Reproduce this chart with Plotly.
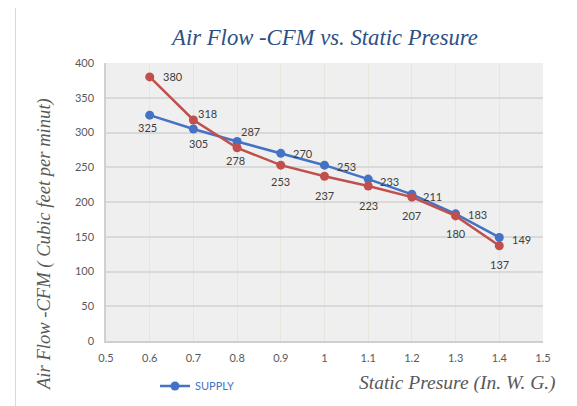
import plotly.graph_objects as go

pressure = [0.6, 0.7, 0.8, 0.9, 1.0, 1.1, 1.2, 1.3, 1.4]
supply = [325, 305, 287, 270, 253, 233, 211, 183, 149]
second = [380, 318, 278, 253, 237, 223, 207, 180, 137]
x_ticks = [0.5, 0.6, 0.7, 0.8, 0.9, 1, 1.1, 1.2, 1.3, 1.4, 1.5]
y_ticks = [0, 50, 100, 150, 200, 250, 300, 350, 400]

# label offsets in pixels (dx right, dy down) - style only
supply_label_offsets = [(-2, 12), (5, 14), (13, -10), (22, 0), (22, 1), (21, 2), (21, 2), (22, 1), (22, 2)]
second_label_offsets = [(23, 0), (14, -6), (-2, 13), (0, 16), (0, 19), (0, 19), (0, 18), (0, 18), (0, 19)]

BLUE = "#4472c4"
RED = "#c0504d"
LABEL = "#404040"
TICK = "#595959"
SERIF = "Liberation Serif, Times New Roman, DejaVu Serif, serif"
SANS = "Lato, Open Sans, sans-serif"

# geometry (figure is drawn inside an 8px page margin)
OFF = 8
W, H = 569, 398
L, R, T, B = 98, 34, 55, 65
PW, PH = W - L - R, H - T - B


def px(xr):
    return (xr - OFF - L) / PW


def py(yr):
    return (H - B - (yr - OFF)) / PH


def cx(xr):
    return (xr - OFF) / W


def cy(yr):
    return (H - (yr - OFF)) / H


fig = go.Figure()
fig.add_trace(go.Scatter(
    x=pressure, y=supply, name="SUPPLY", mode="lines+markers",
    line=dict(color=BLUE, width=2.5), marker=dict(color=BLUE, size=9),
))
fig.add_trace(go.Scatter(
    x=pressure, y=second, name="Series 2", mode="lines+markers", showlegend=False,
    line=dict(color=RED, width=2.5), marker=dict(color=RED, size=9),
))

for xs, ys, offs in ((pressure, supply, supply_label_offsets), (pressure, second, second_label_offsets)):
    for xv, yv, (dx, dy) in zip(xs, ys, offs):
        fig.add_annotation(x=xv, y=yv, text=str(yv), showarrow=False,
                           xanchor="center", yanchor="middle", xshift=dx, yshift=-dy,
                           font=dict(family=SANS, size=11, color=LABEL))

fig.update_layout(
    width=W, height=H, autosize=False,
    margin=dict(l=L, r=R, t=T, b=B, pad=0, autoexpand=False),
    paper_bgcolor="white", plot_bgcolor="#efefef",
    title=dict(text="<i>Air Flow -CFM vs. Static Presure</i>", x=cx(325), xanchor="center",
               xref="container", yref="container",
               y=cy(37), yanchor="middle",
               font=dict(family=SERIF, size=22.7, color="#2e5085")),
    showlegend=True,
    legend=dict(orientation="h", xref="container", yref="container",
                x=cx(155), xanchor="left", y=cy(386), yanchor="middle",
                font=dict(family=SANS, size=11, color=BLUE), bgcolor="rgba(0,0,0,0)",
                itemwidth=30),
    font=dict(family=SANS, color=TICK),
)
fig.update_xaxes(range=[0.5, 1.5], tickvals=x_ticks, ticktext=[f"{v:g}" for v in x_ticks],
                 showgrid=True, gridcolor="#e6e6dc", gridwidth=1, zeroline=False,
                 showline=True, linecolor="#d0d0d0", linewidth=1.5, automargin=False,
                 ticks="", ticklabelstandoff=6, tickfont=dict(family=SANS, size=11, color=TICK))
fig.update_yaxes(range=[0, 400], tickvals=y_ticks,
                 showgrid=True, gridcolor="#d9d9d9", gridwidth=1.5, zeroline=False,
                 showline=True, linecolor="#d0d0d0", linewidth=1.5, automargin=False,
                 ticks="", ticklabelstandoff=8, tickfont=dict(family=SANS, size=11, color=TICK))

fig.add_annotation(text="<i>Air Flow -CFM ( Cubic feet per minut)</i>", textangle=-90,
                   xref="paper", yref="paper", x=px(44), y=py(245),
                   xanchor="center", yanchor="middle", showarrow=False,
                   font=dict(family=SERIF, size=18.6, color=TICK))
fig.add_annotation(text="<i>Static Presure (In. W. G.)</i>",
                   xref="paper", yref="paper", x=px(558), y=py(383),
                   xanchor="right", yanchor="middle", showarrow=False,
                   font=dict(family=SERIF, size=19.5, color=TICK))

# outer chart frame
fig.add_shape(type="rect", xref="paper", yref="paper",
              x0=px(15.5), x1=px(600), y0=py(430), y1=py(5.5),
              line=dict(color="#d9d9d9", width=1), fillcolor="rgba(0,0,0,0)", layer="below")

fig.write_html("out.html")
